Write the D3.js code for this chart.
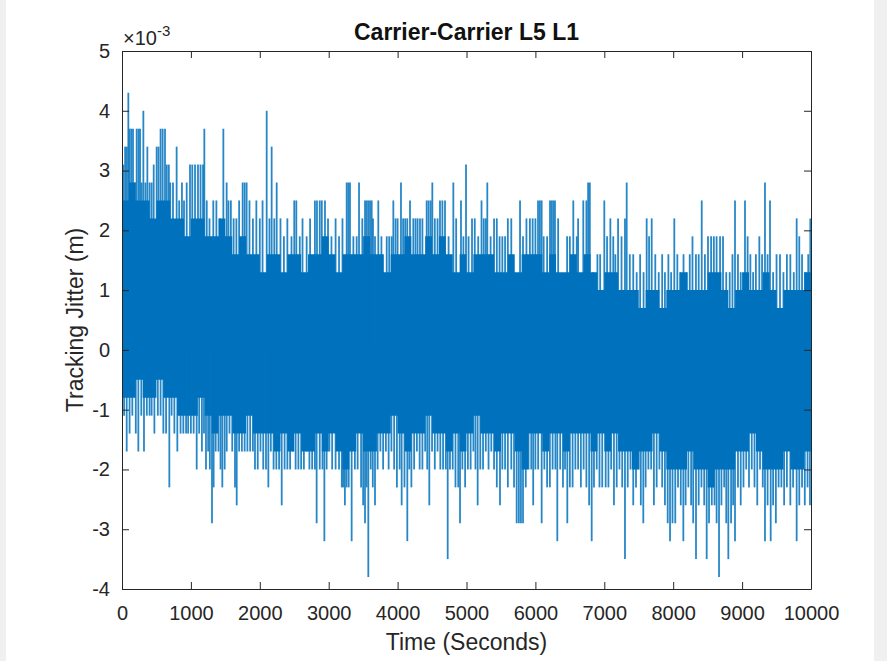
<!DOCTYPE html>
<html>
<head>
<meta charset="utf-8">
<script src="https://cdn.jsdelivr.net/npm/d3@7"></script>
<style>
  html, body { margin: 0; padding: 0; background: #ffffff; }
  svg { display: block; }
</style>
</head>
<body>
<svg id="chart" width="887" height="661"></svg>
<script>
// Carrier-Carrier L5 L1 tracking jitter (units of 1e-3 m) over 10000 s.

// Dense body of the trace, in 100 s blocks: the levels the trace fills
// solidly inside each block (block i starts at i * 100 s).
const coreHigh = [
  2.5, 2.8, 2.5, 2.5, 2.2, 2.5, 2.5, 2.2, 2.2, 1.9,
  2.2, 2.2, 1.9, 1.9, 2.2, 1.9, 1.6, 1.9, 1.6, 1.6,
  1.3, 1.6, 1.6, 1.3, 1.6, 1.6, 1.3, 1.6, 1.6, 1.9,
  1.6, 1.3, 1.6, 1.6, 1.6, 1.9, 1.6, 1.6, 1.3, 1.6,
  1.6, 1.9, 1.6, 1.6, 1.9, 1.6, 1.9, 1.6, 1.3, 1.6,
  1.3, 1.6, 1.6, 1.6, 1.3, 1.3, 1.6, 1.3, 1.6, 1.6,
  1.6, 1.3, 1.6, 1.3, 1.3, 1.6, 1.3, 1.6, 1.3, 1.0,
  1.3, 1.3, 1.0, 1.0, 1.0, 0.7, 1.0, 1.0, 0.7, 1.0,
  1.0, 1.3, 1.0, 1.0, 1.0, 1.3, 1.3, 1.0, 0.7, 1.0,
  1.3, 1.0, 1.0, 1.3, 1.0, 0.7, 1.0, 1.0, 1.0, 1.3];
const coreLow = [
  -0.8, -0.8, -0.5, -0.8, -0.8, -0.5, -0.8, -0.8, -1.1, -1.1,
  -1.1, -0.8, -1.1, -1.4, -1.1, -1.1, -1.4, -1.4, -1.1, -1.4,
  -1.4, -1.4, -1.7, -1.4, -1.7, -1.4, -1.7, -1.7, -1.4, -1.7,
  -1.4, -1.7, -2.0, -1.7, -1.4, -1.7, -1.7, -1.4, -1.4, -1.1,
  -1.4, -1.7, -1.4, -1.4, -1.1, -1.4, -1.4, -1.7, -1.4, -1.7,
  -1.4, -1.1, -1.4, -1.4, -1.7, -1.4, -1.4, -1.7, -2.0, -1.4,
  -1.4, -1.7, -1.4, -1.4, -1.7, -1.4, -1.4, -1.4, -1.7, -1.4,
  -1.7, -1.4, -1.7, -1.7, -2.0, -1.7, -1.7, -1.4, -1.7, -2.0,
  -2.0, -2.0, -1.7, -2.0, -2.0, -2.3, -2.0, -2.0, -2.0, -1.7,
  -1.7, -1.4, -1.7, -2.0, -2.0, -2.0, -1.7, -2.0, -2.0, -1.7];
const blockSeconds = 100;

// Positive excursions above the dense body: time (s) and peak value.
const upTime = [20, 45, 70, 92, 110, 135, 160, 185, 213, 240, 262, 285, 310, 340, 368, 400,
  430, 460, 503, 530, 560, 590, 624, 650, 680, 700, 740, 793, 830, 870, 900, 939,
  987, 1020, 1060, 1103, 1140, 1176, 1195, 1230, 1270, 1325, 1370, 1420, 1471, 1519,
  1545, 1580, 1620, 1660, 1700, 1751, 1780, 1809, 1850, 1900, 1950, 2000, 2040, 2100,
  2140, 2172, 2210, 2245, 2300, 2350, 2400, 2460, 2500, 2530, 2580, 2620, 2680, 2730,
  2800, 2830, 2870, 2900, 2946, 2990, 3040, 3100, 3150, 3200, 3261, 3285, 3309, 3358,
  3406, 3440, 3488, 3527, 3551, 3575, 3600, 3624, 3643, 3672, 3720, 3765, 3842, 3878,
  3914, 3938, 3970, 4000, 4049, 4080, 4110, 4140, 4180, 4228, 4260, 4290, 4325, 4360,
  4422, 4450, 4480, 4504, 4540, 4580, 4615, 4650, 4688, 4740, 4809, 4850, 4920, 4955,
  4993, 5030, 5080, 5120, 5170, 5218, 5250, 5280, 5302, 5350, 5400, 5440, 5480, 5520,
  5560, 5600, 5650, 5777, 5820, 5870, 5920, 5960, 6000, 6038, 6065, 6091, 6120, 6170,
  6212, 6236, 6260, 6284, 6330, 6460, 6500, 6550, 6600, 6620, 6695, 6740, 6765, 6790,
  6840, 6900, 6940, 7000, 7040, 7088, 7130, 7160, 7200, 7250, 7300, 7325, 7370, 7420,
  7470, 7520, 7570, 7615, 7650, 7688, 7740, 7790, 7840, 7880, 7930, 7970, 8016, 8060,
  8100, 8150, 8200, 8240, 8280, 8330, 8370, 8414, 8460, 8505, 8550, 8590, 8630, 8680,
  8723, 8770, 8820, 8860, 8897, 8940, 8980, 9042, 9080, 9120, 9160, 9200, 9250, 9290,
  9332, 9370, 9405, 9450, 9500, 9550, 9600, 9650, 9700, 9750, 9792, 9830, 9870, 9920,
  9960, 9990];
const upValue = [3.1, 3.4, 3.4, 4.3, 3.7, 3.7, 3.7, 2.8, 3.7, 3.7, 3.7, 2.8, 4.0, 2.8, 3.4, 2.8,
  2.8, 3.1, 3.4, 3.4, 3.7, 3.7, 3.7, 3.1, 3.1, 2.8, 2.8, 3.4, 2.5, 2.8, 2.5, 2.8,
  3.1, 3.1, 3.1, 3.1, 3.1, 3.1, 3.7, 2.5, 2.2, 2.5, 2.5, 2.2, 3.7, 2.8,
  2.5, 2.5, 2.2, 2.2, 2.5, 2.8, 2.8, 2.8, 2.5, 2.2, 2.5, 2.2, 2.5, 4.0,
  2.2, 3.4, 2.2, 2.8, 2.2, 1.9, 2.2, 1.9, 2.5, 2.5, 1.9, 2.2, 1.9, 2.2,
  2.5, 2.5, 2.5, 2.5, 2.5, 2.2, 1.9, 2.2, 1.9, 2.2, 2.8, 2.8, 2.8, 1.9,
  1.9, 2.8, 2.2, 2.5, 2.5, 2.5, 2.5, 2.5, 2.2, 1.9, 2.5, 1.9, 1.9, 1.9,
  1.9, 2.5, 2.2, 2.2, 2.8, 2.2, 2.2, 2.2, 2.5, 2.2, 2.2, 2.2, 2.2, 2.2,
  2.5, 2.5, 2.5, 2.8, 2.2, 2.2, 2.5, 2.5, 2.5, 1.9, 2.8, 2.2, 2.5, 1.9,
  3.1, 1.9, 2.2, 2.2, 1.9, 2.5, 2.2, 2.2, 2.8, 1.9, 2.2, 2.2, 1.9, 1.9,
  1.9, 2.2, 2.2, 2.5, 1.9, 2.2, 2.2, 2.2, 2.2, 2.5, 2.5, 2.5, 1.9, 1.9,
  2.5, 2.5, 2.5, 2.5, 2.2, 1.9, 1.9, 2.5, 1.9, 2.2, 2.5, 2.5, 2.8, 2.8,
  1.3, 1.6, 1.6, 2.5, 1.9, 2.2, 1.9, 1.6, 2.2, 1.9, 2.2, 2.8, 1.6, 1.6,
  1.3, 1.6, 1.3, 2.2, 1.9, 2.2, 1.6, 1.3, 1.6, 1.3, 1.6, 1.3, 2.2, 1.6,
  1.3, 1.6, 1.3, 1.6, 1.9, 1.6, 1.6, 2.5, 1.6, 1.9, 1.9, 1.9, 1.9, 1.9,
  1.9, 1.3, 1.3, 1.6, 2.5, 1.6, 1.3, 2.5, 1.9, 1.6, 1.3, 1.6, 1.9, 1.6,
  2.8, 1.6, 2.5, 1.3, 1.6, 1.6, 1.3, 1.6, 1.6, 1.3, 2.2, 1.9, 1.6, 1.3,
  1.6, 2.2];

// Negative excursions below the dense body: time (s) and trough value.
const downTime = [30, 68, 110, 150, 200, 237, 280, 319, 360, 400, 430, 470, 520, 560, 600, 640,
  687, 720, 760, 803, 850, 890, 930, 960, 1000, 1040, 1084, 1120, 1160, 1190, 1219, 1250,
  1275, 1306, 1330, 1360, 1400, 1430, 1456, 1490, 1520, 1560, 1600, 1640, 1665, 1700,
  1740, 1780, 1820, 1860, 1900, 1930, 1970, 2010, 2050, 2090, 2124, 2160, 2200, 2240,
  2280, 2318, 2360, 2400, 2440, 2480, 2520, 2560, 2600, 2640, 2680, 2720, 2760, 2800,
  2825, 2870, 2910, 2937, 2970, 3010, 3050, 3100, 3150, 3190, 3210, 3235, 3260, 3290,
  3333, 3380, 3420, 3470, 3500, 3527, 3550, 3575, 3610, 3640, 3672, 3710, 3750, 3790,
  3830, 3870, 3910, 3950, 3990, 4030, 4059, 4100, 4141, 4170, 4200, 4240, 4280, 4320,
  4360, 4400, 4430, 4460, 4500, 4540, 4580, 4620, 4660, 4700, 4727, 4760, 4800, 4840,
  4880, 4906, 4940, 4980, 5020, 5060, 5100, 5130, 5162, 5200, 5240, 5280, 5320, 5360,
  5400, 5440, 5486, 5520, 5560, 5600, 5650, 5690, 5728, 5760, 5790, 5820, 5860, 5900,
  5940, 5968, 6000, 6040, 6091, 6130, 6170, 6210, 6250, 6290, 6318, 6360, 6400, 6430,
  6463, 6500, 6540, 6580, 6620, 6660, 6700, 6740, 6780, 6817, 6850, 6890, 6930, 6970,
  7020, 7060, 7100, 7140, 7180, 7220, 7260, 7300, 7340, 7380, 7420, 7460, 7500, 7530,
  7566, 7600, 7640, 7680, 7720, 7760, 7800, 7840, 7880, 7920, 7954, 7990, 8030, 8070,
  8110, 8147, 8180, 8220, 8260, 8290, 8331, 8370, 8410, 8450, 8486, 8520, 8560, 8600,
  8630, 8665, 8700, 8740, 8770, 8800, 8840, 8870, 8897, 8940, 8980, 9020, 9060, 9100,
  9140, 9180, 9220, 9260, 9300, 9332, 9370, 9415, 9450, 9490, 9530, 9570, 9610, 9650,
  9700, 9740, 9792, 9830, 9870, 9910, 9950, 9985];
const downValue = [-1.1, -1.7, -1.4, -1.1, -1.4, -1.7, -1.1, -1.7, -1.1, -1.1, -1.1, -1.4, -1.1, -1.1, -1.4, -1.4,
  -2.3, -1.1, -1.4, -1.7, -1.4, -1.4, -1.4, -1.4, -1.4, -1.4, -2.0, -1.4, -1.7, -1.4, -2.0, -1.7,
  -2.0, -2.9, -2.3, -1.7, -1.7, -2.0, -2.3, -2.0, -1.7, -1.4, -1.7, -2.3, -2.6, -1.7,
  -1.7, -1.7, -1.7, -1.7, -1.7, -2.0, -2.0, -1.7, -2.0, -2.0, -2.3, -1.7, -2.0, -2.0,
  -2.0, -2.6, -2.0, -2.0, -2.0, -1.7, -2.0, -2.0, -2.0, -2.0, -1.7, -2.0, -2.0, -2.0,
  -2.9, -2.0, -2.0, -3.2, -2.0, -1.7, -2.0, -2.0, -2.0, -2.3, -2.3, -2.6, -2.3, -2.3,
  -3.2, -2.0, -2.0, -2.3, -2.6, -2.9, -2.3, -3.8, -2.0, -2.3, -2.6, -2.0, -1.7, -2.0,
  -1.7, -2.0, -1.7, -2.0, -2.3, -2.0, -2.6, -2.3, -3.2, -2.0, -2.3, -2.0, -1.7, -2.0,
  -2.0, -1.7, -2.0, -2.6, -1.7, -2.0, -1.7, -2.0, -2.0, -2.0, -3.5, -2.0, -2.0, -2.3,
  -2.3, -2.9, -2.0, -2.3, -2.0, -2.0, -1.7, -2.0, -2.6, -2.0, -2.0, -1.7, -2.0, -1.7,
  -2.0, -2.3, -2.6, -2.0, -2.0, -2.3, -2.0, -2.3, -2.9, -2.9, -2.9, -2.9, -2.3, -2.0,
  -2.0, -2.6, -2.0, -2.0, -2.9, -2.0, -2.3, -2.3, -2.0, -2.0, -3.2, -2.0, -2.3, -2.0,
  -2.9, -2.3, -2.3, -2.0, -2.0, -2.3, -2.0, -2.3, -2.6, -3.2, -2.3, -2.0, -2.3, -2.3,
  -2.3, -2.3, -2.0, -2.6, -2.3, -2.0, -2.3, -3.5, -2.3, -2.0, -2.6, -2.3, -2.0, -2.6,
  -2.9, -2.3, -2.0, -2.0, -2.6, -2.3, -2.0, -2.3, -2.6, -2.9, -3.2, -2.9, -2.9, -2.3,
  -2.6, -3.2, -2.6, -2.3, -2.6, -2.9, -3.5, -2.6, -2.3, -2.6, -3.5, -2.9, -2.6, -2.6,
  -2.9, -3.8, -2.6, -2.3, -2.9, -3.5, -2.9, -2.6, -3.2, -2.3, -2.6, -2.3, -2.0, -2.3,
  -2.0, -2.3, -2.6, -2.0, -2.3, -3.2, -2.6, -3.2, -2.6, -2.9, -2.3, -2.3, -2.6, -2.3,
  -2.6, -2.3, -3.2, -2.6, -2.3, -2.6, -2.3, -2.6];

const xTicks = [0, 1000, 2000, 3000, 4000, 5000, 6000, 7000, 8000, 9000, 10000];
const yTicks = [-4, -3, -2, -1, 0, 1, 2, 3, 4, 5];

const titleText = "Carrier-Carrier L5 L1";
const xLabelText = "Time (Seconds)";
const yLabelText = "Tracking Jitter (m)";

const lineBlue = "#0072BD";
const axisGray = "#262626";
const fontFamily = "'Liberation Sans', Arial, Helvetica, sans-serif";

const svg = d3.select("#chart");

// window chrome strips at the left and right edges
svg.append("rect").attr("x", 0).attr("y", 0).attr("width", 6).attr("height", 661).attr("fill", "#f0f0f0");
svg.append("rect").attr("x", 874).attr("y", 0).attr("width", 13).attr("height", 661).attr("fill", "#f0f0f0");

const plot = { left: 122, right: 811, top: 51, bottom: 589 };

const x = d3.scaleLinear().domain([0, 10000]).range([plot.left, plot.right]);
const y = d3.scaleLinear().domain([-4, 5]).range([plot.bottom, plot.top]);

svg.append("defs").append("clipPath").attr("id", "plot-clip")
  .append("rect")
  .attr("x", plot.left).attr("y", plot.top)
  .attr("width", plot.right - plot.left).attr("height", plot.bottom - plot.top);

const traceLayer = svg.append("g").attr("clip-path", "url(#plot-clip)");

// solid body of the jitter trace
const coreRows = coreHigh.map((hi, i) => ({ t: i * blockSeconds, hi, lo: coreLow[i] }));
coreRows.push({ t: 10000, hi: coreHigh[coreHigh.length - 1], lo: coreLow[coreLow.length - 1] });

const coreArea = d3.area()
  .x(d => x(d.t))
  .y0(d => y(d.lo))
  .y1(d => y(d.hi))
  .curve(d3.curveStepAfter);

traceLayer.append("path")
  .datum(coreRows)
  .attr("d", coreArea)
  .attr("fill", lineBlue);

// excursions drawn as vertical strokes from zero
const upRows = upTime.map((t, i) => ({ t, v: upValue[i] }));
const downRows = downTime.map((t, i) => ({ t, v: downValue[i] }));

traceLayer.append("g").selectAll("line")
  .data(upRows.concat(downRows))
  .join("line")
  .attr("x1", d => x(d.t))
  .attr("x2", d => x(d.t))
  .attr("y1", y(0))
  .attr("y2", d => y(d.v))
  .attr("stroke", lineBlue)
  .attr("stroke-opacity", 0.85)
  .attr("stroke-width", 1.8);

// axes: box with inward ticks on all four sides
const tickLen = 7;

const xAxisBottom = svg.append("g")
  .attr("transform", `translate(0,${plot.bottom})`)
  .call(d3.axisBottom(x).tickValues(xTicks).tickFormat(d3.format("d"))
    .tickSizeInner(-tickLen).tickSizeOuter(0).tickPadding(17));

const xAxisTop = svg.append("g")
  .attr("transform", `translate(0,${plot.top})`)
  .call(d3.axisTop(x).tickValues(xTicks).tickFormat("")
    .tickSizeInner(-tickLen).tickSizeOuter(0));

const yAxisLeft = svg.append("g")
  .attr("transform", `translate(${plot.left},0)`)
  .call(d3.axisLeft(y).tickValues(yTicks).tickFormat(d3.format("d"))
    .tickSizeInner(-tickLen).tickSizeOuter(0).tickPadding(12));

const yAxisRight = svg.append("g")
  .attr("transform", `translate(${plot.right},0)`)
  .call(d3.axisRight(y).tickValues(yTicks).tickFormat("")
    .tickSizeInner(-tickLen).tickSizeOuter(0));

[xAxisBottom, xAxisTop, yAxisLeft, yAxisRight].forEach(g => {
  g.select(".domain").attr("stroke", axisGray).attr("stroke-width", 1);
  g.selectAll(".tick line").attr("stroke", axisGray).attr("stroke-width", 1);
  g.selectAll(".tick text")
    .attr("fill", axisGray)
    .style("font-family", fontFamily)
    .style("font-size", "20px");
});
// MATLAB-style hyphen minus on the y labels
yAxisLeft.selectAll(".tick text").text(d => d < 0 ? "-" + Math.abs(d) : String(d));

// exponent marker above the y axis
const expo = svg.append("text")
  .attr("x", 123)
  .attr("y", 45)
  .attr("fill", axisGray)
  .style("font-family", fontFamily)
  .style("font-size", "20px");
expo.append("tspan").text("\u00d710");
expo.append("tspan").attr("dy", -9).style("font-size", "15px").text("-3");

// title
svg.append("text")
  .attr("x", (plot.left + plot.right) / 2)
  .attr("y", 40)
  .attr("text-anchor", "middle")
  .attr("fill", "#111111")
  .style("font-family", fontFamily)
  .style("font-size", "23px")
  .style("font-weight", "bold")
  .text(titleText);

// axis labels
svg.append("text")
  .attr("x", (plot.left + plot.right) / 2)
  .attr("y", 650)
  .attr("text-anchor", "middle")
  .attr("fill", axisGray)
  .style("font-family", fontFamily)
  .style("font-size", "23px")
  .text(xLabelText);

svg.append("text")
  .attr("transform", `translate(83,${(plot.top + plot.bottom) / 2}) rotate(-90)`)
  .attr("text-anchor", "middle")
  .attr("fill", axisGray)
  .style("font-family", fontFamily)
  .style("font-size", "23px")
  .text(yLabelText);
</script>
</body>
</html>
